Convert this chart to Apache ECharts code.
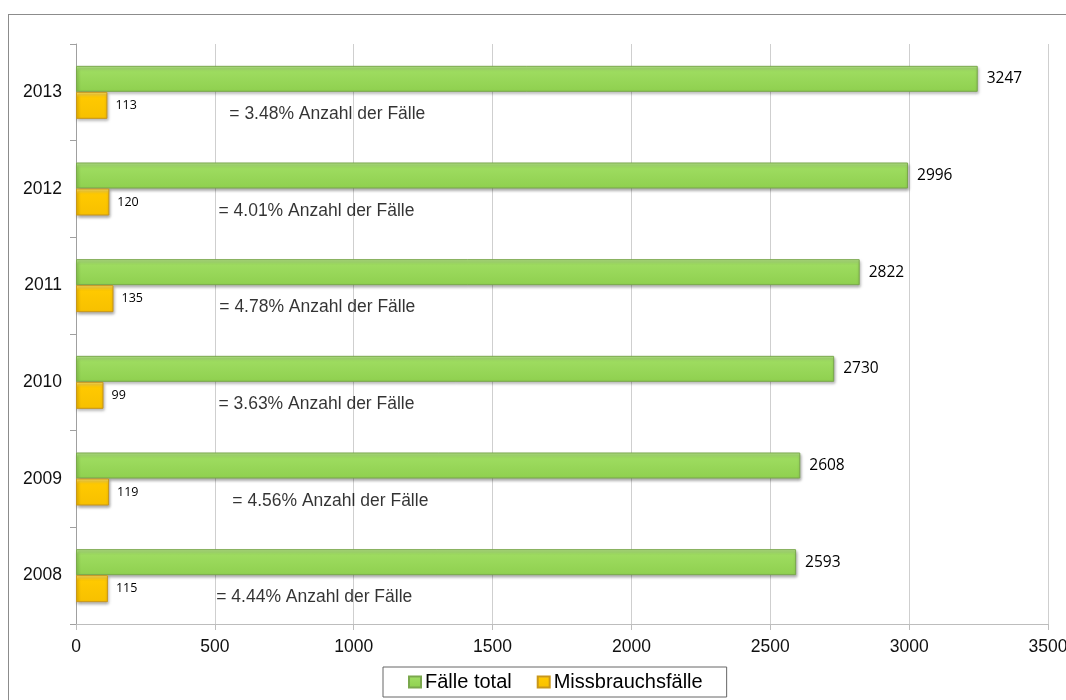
<!DOCTYPE html>
<html>
<head>
<meta charset="utf-8">
<script src="https://cdn.jsdelivr.net/npm/echarts@6/dist/echarts.min.js"></script>
<style>
  html, body { margin: 0; padding: 0; width: 1066px; height: 700px; overflow: hidden; background: #fff; }
  #frame { position: absolute; left: 8px; top: 14px; width: 1200px; height: 800px; border: 1px solid #8c8c8c; box-sizing: border-box; }
  #chart { position: absolute; left: 0; top: 0; width: 1066px; height: 700px; }
</style>
</head>
<body>
<div id="frame"></div>
<div id="chart"></div>
<script>
// Data (bottom to top)
const years = ['2008', '2009', '2010', '2011', '2012', '2013'];
const totalCases = [2593, 2608, 2730, 2822, 2996, 3247];
const abuseCases = [115, 119, 99, 135, 120, 113];
const pctLabels = ['= 4.44% Anzahl der Fälle', '= 4.56% Anzahl der Fälle', '= 3.63% Anzahl der Fälle',
                   '= 4.78% Anzahl der Fälle', '= 4.01% Anzahl der Fälle', '= 3.48% Anzahl der Fälle'];
// x position (in value units) where each annotation text starts
const pctLabelX = [505, 563, 513, 516, 513, 552];
const xTicks = { min: 0, max: 3500, interval: 500 };

const chart = echarts.init(document.getElementById('chart'), null, { renderer: 'canvas' });

const greenFill = new echarts.graphic.LinearGradient(0, 0, 0, 1, [
  { offset: 0, color: '#b9ea8c' },
  { offset: 0.2, color: '#9edc60' },
  { offset: 1, color: '#8fd04f' }
]);
const yellowFill = new echarts.graphic.LinearGradient(0, 0, 0, 1, [
  { offset: 0, color: '#ffe066' },
  { offset: 0.2, color: '#ffc900' },
  { offset: 1, color: '#f7c000' }
]);

chart.setOption({
  animation: false,
  backgroundColor: 'transparent',
  grid: { left: 76, right: 18, top: 44, bottom: 76, containLabel: false, outerBoundsMode: 'none' },
  legend: {
    data: ['Fälle total', 'Missbrauchsfälle'],
    left: 383, top: 667,
    padding: [5, 24, 5, 25],
    borderColor: '#666', borderWidth: 1,
    itemWidth: 12, itemHeight: 11, itemGap: 25,
    icon: 'rect',
    textStyle: { fontFamily: 'Liberation Sans', fontSize: 20, color: '#000', padding: [0, 0, 0, -1] }
  },
  xAxis: {
    type: 'value',
    min: xTicks.min, max: xTicks.max, interval: xTicks.interval,
    axisLine: { show: true, lineStyle: { color: '#bdbdbd', width: 1 } },
    axisTick: { show: true, length: 6, lineStyle: { color: '#bdbdbd' } },
    axisLabel: { margin: 14, fontFamily: 'Liberation Sans', fontSize: 17.5, color: '#111',
                 formatter: v => String(v) },
    splitLine: { show: true, lineStyle: { color: '#cfcfcf', width: 1 } }
  },
  yAxis: {
    type: 'category',
    data: years,
    axisLine: { show: true, lineStyle: { color: '#a0a0a0', width: 1 } },
    axisTick: { show: true, length: 6, lineStyle: { color: '#a0a0a0' } },
    axisLabel: { margin: 14, fontFamily: 'Liberation Sans', fontSize: 17.5, color: '#111',
                 lineHeight: 22, padding: [4, 0, 0, 0] },
    splitLine: { show: false }
  },
  series: [
    {
      name: 'Fälle total',
      type: 'bar',
      data: totalCases,
      barWidth: 26,
      barGap: '0%',
      itemStyle: {
        color: greenFill,
        borderColor: '#7aa84c', borderWidth: 1,
        shadowColor: 'rgba(0,0,0,0.35)', shadowBlur: 3, shadowOffsetX: 1, shadowOffsetY: 2
      },
      label: { show: true, position: 'right', distance: 9, fontFamily: 'Open Sans', fontSize: 15.5, color: '#000' }
    },
    {
      name: 'Missbrauchsfälle',
      type: 'bar',
      data: abuseCases,
      barWidth: 27,
      barGap: '0%',
      itemStyle: {
        color: yellowFill,
        borderColor: '#c9971a', borderWidth: 1,
        shadowColor: 'rgba(0,0,0,0.35)', shadowBlur: 3, shadowOffsetX: 1, shadowOffsetY: 2
      },
      label: { show: true, position: 'right', distance: 8, fontFamily: 'Open Sans', fontSize: 12.5, color: '#000' }
    },
    {
      name: 'pct',
      type: 'scatter',
      symbolSize: 0,
      silent: true,
      data: pctLabelX.map((x, i) => ({ value: [x, years[i]], label: { formatter: pctLabels[i] } })),
      label: {
        show: true, position: 'right', distance: 0, offset: [0, 22],
        fontFamily: 'Liberation Sans', fontSize: 17.5, color: '#000'
      },
      tooltip: { show: false }
    }
  ]
});
</script>
</body>
</html>
